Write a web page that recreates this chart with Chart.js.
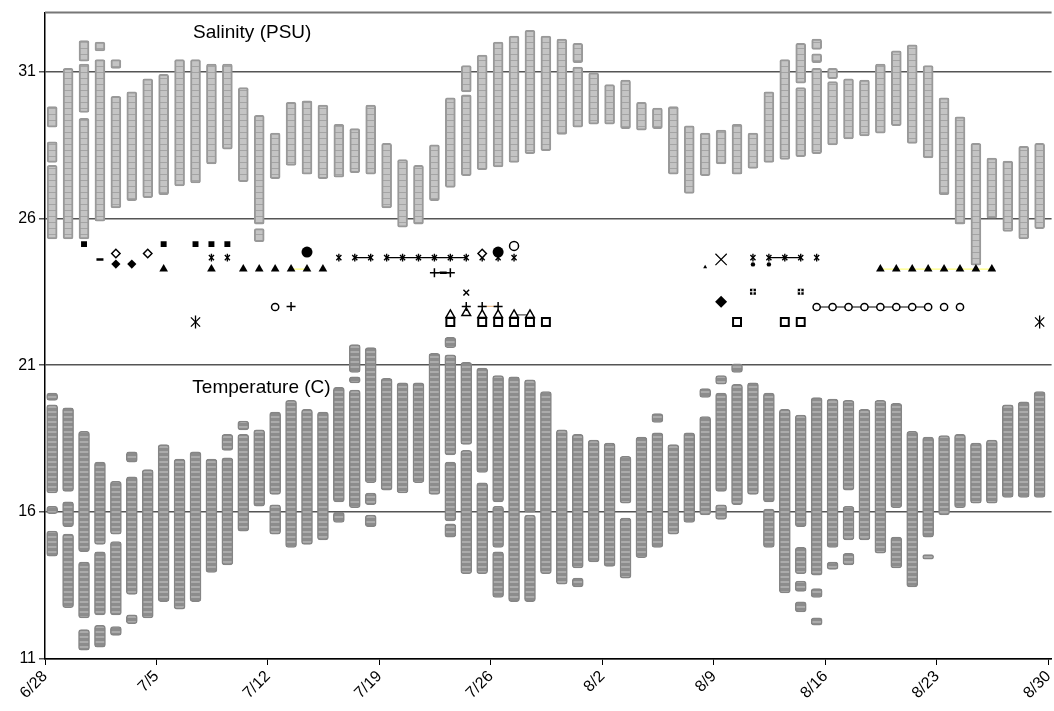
<!DOCTYPE html>
<html>
<head>
<meta charset="utf-8">
<script src="https://cdn.jsdelivr.net/npm/chart.js@4.4.0/dist/chart.umd.min.js"></script>
<style>
html, body { margin: 0; padding: 0; background: #fff; overflow: hidden; }
#wrap { width: 1064px; height: 711px; }
</style>
</head>
<body>
<div id="wrap"><canvas id="c"></canvas></div>
<script>
// x axis: days since 6/28
const tickDays = [0, 7, 14, 21, 28, 35, 42, 49, 56, 63];
const tickLabels = ['6/28', '7/5', '7/12', '7/19', '7/26', '8/2', '8/9', '8/16', '8/23', '8/30'];
const yTicks = [11, 16, 21, 26, 31];

// salinity readings per day, as runs of stacked readings [top, bottom]
const salinity = [
  [[29.8, 29.1], [28.6, 27.9], [27.8, 25.3]],
  [[31.1, 25.3]],
  [[32.05, 31.35], [31.25, 29.6], [29.4, 25.3]],
  [[32.0, 31.7], [31.4, 25.9]],
  [[31.4, 31.1], [30.15, 26.35]],
  [[30.3, 26.6]],
  [[30.75, 26.7]],
  [[30.9, 26.8]],
  [[31.4, 27.1]],
  [[31.4, 27.2]],
  [[31.25, 27.85]],
  [[31.25, 28.35]],
  [[30.45, 27.25]],
  [[29.5, 25.8], [25.65, 25.2]],
  [[28.9, 27.35]],
  [[29.95, 27.8]],
  [[30.0, 27.5]],
  [[29.85, 27.35]],
  [[29.2, 27.4]],
  [[29.05, 27.55]],
  [[29.85, 27.5]],
  [[28.55, 26.35]],
  [[28.0, 25.7]],
  [[27.8, 25.8]],
  [[28.5, 26.6]],
  [[30.1, 27.05]],
  [[31.2, 30.3], [30.2, 27.45]],
  [[31.55, 27.65]],
  [[32.0, 27.75]],
  [[32.2, 27.9]],
  [[32.4, 28.2]],
  [[32.2, 28.3]],
  [[32.1, 28.85]],
  [[31.95, 31.3], [31.15, 29.1]],
  [[30.95, 29.2]],
  [[30.55, 29.2]],
  [[30.7, 29.05]],
  [[29.95, 29.0]],
  [[29.75, 29.05]],
  [[29.8, 27.5]],
  [[29.15, 26.85]],
  [[28.9, 27.45]],
  [[29.0, 27.85]],
  [[29.2, 27.5]],
  [[28.9, 27.7]],
  [[30.3, 27.9]],
  [[31.4, 28.0]],
  [[31.95, 30.6], [30.45, 28.1]],
  [[32.1, 31.75], [31.6, 31.3], [31.1, 28.2]],
  [[31.1, 30.75], [30.65, 28.5]],
  [[30.75, 28.7]],
  [[30.7, 28.8]],
  [[31.25, 28.9]],
  [[31.7, 29.15]],
  [[31.9, 28.55]],
  [[31.2, 28.05]],
  [[30.1, 26.8]],
  [[29.45, 25.8]],
  [[28.55, 24.4]],
  [[28.05, 26.0]],
  [[27.95, 25.55]],
  [[28.45, 25.3]],
  [[28.55, 25.65]]
];

// temperature readings per day, runs [top, bottom]
const temperature = [
  [[20.05, 19.8], [19.65, 16.65], [16.2, 15.95], [15.35, 14.5]],
  [[19.55, 16.7], [16.35, 15.5], [15.25, 12.75]],
  [[18.75, 14.65], [14.3, 12.4], [12.0, 11.3]],
  [[17.7, 14.9], [14.65, 12.5], [12.15, 11.4]],
  [[17.05, 15.25], [15.0, 12.5], [12.1, 11.8]],
  [[18.05, 17.7], [17.2, 13.2], [12.5, 12.2]],
  [[17.45, 12.4]],
  [[18.3, 12.95]],
  [[17.8, 12.7]],
  [[18.05, 12.95]],
  [[17.8, 13.95]],
  [[18.65, 18.1], [17.85, 14.2]],
  [[19.1, 18.8], [18.65, 15.35]],
  [[18.8, 16.2]],
  [[19.4, 16.6], [16.25, 15.25]],
  [[19.8, 14.8]],
  [[19.5, 14.9]],
  [[19.4, 15.05]],
  [[20.25, 16.35], [16.0, 15.65]],
  [[21.7, 20.75], [20.6, 20.4], [20.15, 16.15]],
  [[21.6, 17.0], [16.65, 16.25], [15.9, 15.5]],
  [[20.55, 16.75]],
  [[20.4, 16.65]],
  [[20.4, 17.0]],
  [[21.4, 16.6]],
  [[21.95, 21.6], [21.35, 17.95], [17.7, 15.7], [15.6, 15.15]],
  [[21.1, 18.3], [18.1, 13.9]],
  [[20.9, 17.35], [17.0, 13.9]],
  [[20.65, 16.35], [16.2, 14.8], [14.65, 13.1]],
  [[20.6, 12.95]],
  [[20.5, 16.0], [15.9, 12.95]],
  [[20.1, 13.9]],
  [[18.8, 13.55]],
  [[18.65, 14.1], [13.75, 13.45]],
  [[18.45, 14.3]],
  [[18.35, 14.15]],
  [[17.9, 16.3], [15.8, 13.75]],
  [[18.55, 14.45]],
  [[19.35, 19.05], [18.7, 14.8]],
  [[18.3, 15.25]],
  [[18.7, 15.65]],
  [[20.2, 19.9], [19.25, 15.9]],
  [[20.65, 20.35], [20.05, 16.7], [16.25, 15.75]],
  [[21.05, 20.75], [20.35, 16.25]],
  [[20.4, 16.6]],
  [[20.05, 16.35], [16.1, 14.8]],
  [[19.5, 13.25]],
  [[19.3, 15.5], [14.8, 13.9], [13.65, 13.3], [12.95, 12.6]],
  [[19.9, 13.85], [13.4, 13.1], [12.4, 12.15]],
  [[19.85, 14.8], [14.3, 14.05]],
  [[19.8, 16.75], [16.2, 15.05], [14.6, 14.2]],
  [[19.5, 15.05]],
  [[19.8, 14.6]],
  [[19.7, 16.15], [15.15, 14.1]],
  [[18.75, 13.45]],
  [[18.55, 15.15], [14.55, 14.4]],
  [[18.6, 15.9]],
  [[18.65, 16.15]],
  [[18.35, 16.3]],
  [[18.45, 16.3]],
  [[19.65, 16.5]],
  [[19.75, 16.5]],
  [[20.1, 16.5]]
];

// sighting marks: days (null = break in line) and the level they sit at
const smallSqDays = [2, null, 7, null, 9, null, 10, null, 11];
const smallSqLevel = 25.12;
const dashDays = [3, null, 24.55];
const dashLevels = [24.6, null, 24.15];
const openDiamondDays = [4, null, 6, null, 27];
const openDiamondLevel = 24.8;
const fillDiamondDays = [4, null, 5];
const fillDiamondLevel = 24.44;
const bigDiamondDays = [42];
const bigDiamondLevel = 23.16;
const triangleDays = [7, null, 10, null, 12, null, 13, null, 14, null, 15, 16, null, 17, null, 52, 53, 54, 55, 56, 57, 58, 59];
const triangleLevel = 24.27;
const smallTriDays = [41];
const smallTriLevel = 24.34;
const starDays = [10, null, 11, null, 18, null, 19, 20, null, 21, 22, 23, 24, 25, 26, null, 27, null, 28, null, 29, null, 44, null, 45, 46, 47, null, 48];
const starLevel = 24.66;
const fillCircleDays = [16, null, 28];
const fillCircleLevel = 24.85;
const bigRingDays = [29];
const bigRingLevel = 25.06;
const dotDays = [44, null, 45];
const dotLevel = 24.43;
const bigXDays = [42];
const bigXLevel = 24.6;
const asteriskDays = [9, null, 62];
const asteriskLevel = 22.47;
const ringDays = [14, null, 48, 49, 50, 51, 52, 53, 54, 55, null, 56, null, 57];
const ringLevel = 22.98;
const plusLowDays = [15, null, 26, null, 27, 28];
const plusLowLevel = 23.0;
const plusHighDays = [24, 25];
const plusHighLevel = 24.15;
const xDays = [26];
const xLevel = 23.47;
const openTriDays = [25, null, 26, null, 27, null, 28, null, 29, 30];
const openTriLevels = [22.71, null, 22.78, null, 22.71, null, 22.71, null, 22.71, 22.71];
const openSqDays = [25, null, 27, null, 28, null, 29, null, 30, null, 31, null, 43, null, 46, null, 47];
const openSqLevel = 22.47;
const quadDays = [44, null, 47];
const quadLevel = 23.5;

const OFF = 0.45; // readings taken late morning

function columns(days) {
  const pts = [];
  days.forEach((segs, d) => segs.forEach(([hi, lo]) => pts.push({ x: d + OFF, y: [lo, hi] })));
  return pts;
}

function marks(days, level) {
  let last = 0;
  return days.map((d, i) => {
    if (d === null) return { x: last, y: null };
    last = d + OFF;
    return { x: last, y: Array.isArray(level) ? level[i] : level };
  });
}

function sym(data, style, r, fill, bw, line, rot) {
  return {
    type: 'line',
    data: data,
    pointStyle: style,
    pointRadius: r,
    pointRotation: rot || 0,
    pointBackgroundColor: fill,
    pointBorderColor: '#000',
    pointBorderWidth: bw,
    showLine: !!line,
    borderColor: line || '#000',
    borderWidth: 1.2,
    spanGaps: false
  };
}

const ctx = document.getElementById('c').getContext('2d');

function tile(w, h, bg, band, y0, bh) {
  const t = document.createElement('canvas');
  t.width = w; t.height = h;
  const g = t.getContext('2d');
  g.fillStyle = bg; g.fillRect(0, 0, w, h);
  g.fillStyle = band; g.fillRect(0, y0, w, bh);
  return ctx.createPattern(t, 'repeat');
}

const salFill = tile(10, 6, '#c4c4c4', '#a4a4a4', 0, 1);
const tempFill = tile(10, 5, '#8c8c8c', '#ababab', 1, 2);

const labelsPlugin = {
  id: 'labels',
  afterDraw(chart) {
    const { ctx: c, chartArea: a, scales: { x, y } } = chart;
    c.save();
    c.strokeStyle = '#777';
    c.lineWidth = 2;
    c.beginPath();
    c.moveTo(a.left, a.top);
    c.lineTo(a.right, a.top);
    c.stroke();
    c.font = '19px "Liberation Sans", Arial, sans-serif';
    c.fillStyle = '#000';
    c.textBaseline = 'middle';
    c.fillText('Salinity (PSU)', x.getPixelForValue(9.3), y.getPixelForValue(32.3));
    c.fillText('Temperature (C)', x.getPixelForValue(9.25), y.getPixelForValue(20.23));
    c.restore();
  }
};

new Chart(ctx, {
  type: 'bar',
  data: {
    datasets: [
      sym(marks(smallSqDays, smallSqLevel), 'rect', 4.2, '#000', 0),
      sym(marks(dashDays, dashLevels), 'line', 3.5, '#000', 2.5),
      sym(marks(openDiamondDays, openDiamondLevel), 'rectRot', 4.2, '#fff', 1.5),
      sym(marks(fillDiamondDays, fillDiamondLevel), 'rectRot', 4.6, '#000', 0),
      sym(marks(bigDiamondDays, bigDiamondLevel), 'rectRot', 6, '#000', 0),
      sym(marks(triangleDays, triangleLevel), 'triangle', 5, '#000', 0, '#ffff80'),
      sym(marks(smallTriDays, smallTriLevel), 'triangle', 2.3, '#000', 0),
      sym(marks(starDays, starLevel), 'crossRot', 3.6, '#000', 1.4, '#000'),
      sym(marks(starDays, starLevel), 'line', 3.8, '#000', 1.4, null, 90),
      sym(marks(fillCircleDays, fillCircleLevel), 'circle', 5.5, '#000', 0),
      sym(marks(bigRingDays, bigRingLevel), 'circle', 4.5, '#fff', 1.5),
      sym(marks(dotDays, dotLevel), 'circle', 2.2, '#000', 0),
      sym(marks(bigXDays, bigXLevel), 'crossRot', 8, '#000', 1.2),
      sym(marks(asteriskDays, asteriskLevel), 'crossRot', 6.5, '#000', 1.3),
      sym(marks(asteriskDays, asteriskLevel), 'line', 6.5, '#000', 1.3, null, 90),
      sym(marks(ringDays, ringLevel), 'circle', 3.6, '#fff', 1.5, '#000'),
      sym(marks(plusLowDays, plusLowLevel), 'cross', 4.5, '#000', 1.5, '#f0c090'),
      sym(marks(plusHighDays, plusHighLevel), 'cross', 4.5, '#000', 1.5, '#000'),
      sym(marks(xDays, xLevel), 'crossRot', 4, '#000', 1.5),
      sym(marks(openTriDays, openTriLevels), 'triangle', 5, '#fff', 1.5, '#555'),
      sym(marks(openSqDays, openSqLevel), 'rect', 5.6, '#fff', 2),
      Object.assign(sym(marks(quadDays, quadLevel), 'cross', 3, '#fff', 1.2), { pointBorderColor: '#fff' }),
      sym(marks(quadDays, quadLevel), 'rect', 4.2, '#000', 0),
      {
        label: 'Temperature',
        data: columns(temperature),
        backgroundColor: tempFill,
        borderColor: '#858585',
        borderWidth: 1.5,
        borderSkipped: false,
        borderRadius: 3,
        barThickness: 11,
        grouped: false
      },
      {
        label: 'Salinity',
        data: columns(salinity),
        backgroundColor: salFill,
        borderColor: '#999',
        borderWidth: 2,
        borderSkipped: false,
        borderRadius: 2,
        barThickness: 10,
        grouped: false
      }
    ]
  },
  options: {
    responsive: true,
    maintainAspectRatio: false,
    animation: false,
    layout: { padding: { top: 12, right: 0, left: 0, bottom: 0 } },
    plugins: {
      legend: { display: false },
      tooltip: { enabled: false }
    },
    scales: {
      x: {
        type: 'linear',
        min: 0,
        max: 63.2,
        offset: false,
        afterBuildTicks: s => { s.ticks = tickDays.map(v => ({ value: v })); },
        afterFit: s => { s.height = 52; },
        grid: { offset: false, drawOnChartArea: false, drawTicks: true, tickLength: 6, color: '#000', lineWidth: 1 },
        border: { color: '#000', width: 1.5 },
        ticks: {
          autoSkip: false,
          maxRotation: 45,
          minRotation: 45,
          padding: 2,
          color: '#000',
          font: { family: '"Liberation Sans", Arial, sans-serif', size: 16 },
          callback: (v, i) => tickLabels[i]
        }
      },
      y: {
        min: 11,
        max: 33,
        afterBuildTicks: s => { s.ticks = yTicks.map(v => ({ value: v })); },
        afterFit: s => { s.width = 45; },
        grid: { color: '#555', lineWidth: 1.5, tickLength: 6 },
        border: { color: '#000', width: 1.5 },
        ticks: {
          padding: 3,
          color: '#000',
          font: { family: '"Liberation Sans", Arial, sans-serif', size: 16 }
        }
      }
    }
  },
  plugins: [labelsPlugin]
});
</script>
</body>
</html>
